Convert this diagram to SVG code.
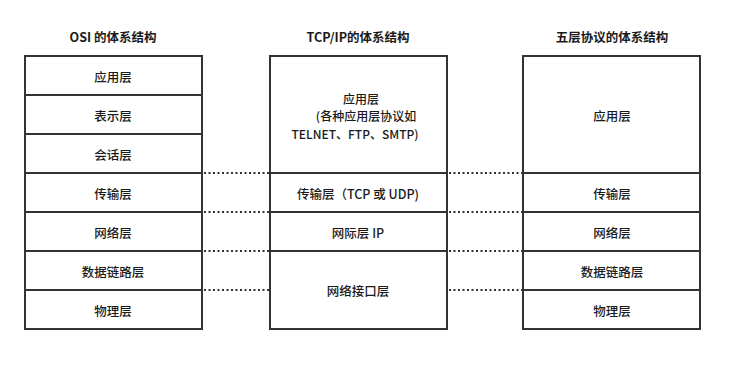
<svg xmlns="http://www.w3.org/2000/svg" width="736" height="374" viewBox="0 0 736 374">
<style>
.box{fill:#fff;stroke:#333;stroke-width:2}
.ln{stroke:#333;stroke-width:2;fill:none}
.dot{stroke:#333;stroke-width:2;stroke-dasharray:2 2.5;fill:none}
text{font-family:"Noto Sans CJK SC","Microsoft YaHei",sans-serif;font-size:12.5px;fill:#1a1a1a;text-anchor:middle;dominant-baseline:central}
.t{font-weight:bold}
.b{font-weight:500}
.s{font-size:12px}
</style>
<rect width="736" height="374" fill="#fff"/>
<g id="titles">
<text class="t" x="113" y="36">OSI 的体系结构</text>
<text class="t" x="358" y="36">TCP/IP的体系结构</text>
<text class="t" x="612" y="36">五层协议的体系结构</text>
</g>
<g id="connectors">
<line class="dot" x1="204" y1="173" x2="269" y2="173"/>
<line class="dot" x1="204" y1="212" x2="269" y2="212"/>
<line class="dot" x1="204" y1="251" x2="269" y2="251"/>
<line class="dot" x1="204" y1="290" x2="269" y2="290"/>
<line class="dot" x1="449" y1="173" x2="522" y2="173"/>
<line class="dot" x1="449" y1="212" x2="522" y2="212"/>
<line class="dot" x1="449" y1="251" x2="522" y2="251"/>
<line class="dot" x1="449" y1="290" x2="522" y2="290"/>
</g>
<g id="osi">
<rect class="box" x="25" y="56" width="177" height="273"/>
<line class="ln" x1="25" y1="95" x2="202" y2="95"/>
<line class="ln" x1="25" y1="134" x2="202" y2="134"/>
<line class="ln" x1="25" y1="173" x2="202" y2="173"/>
<line class="ln" x1="25" y1="212" x2="202" y2="212"/>
<line class="ln" x1="25" y1="251" x2="202" y2="251"/>
<line class="ln" x1="25" y1="290" x2="202" y2="290"/>
<g id="osi-app"><text class="b" x="113" y="76">应用层</text></g>
<g id="osi-pres"><text class="b" x="113" y="115">表示层</text></g>
<g id="osi-sess"><text class="b" x="113" y="154">会话层</text></g>
<g id="osi-trans"><text class="b" x="113" y="193">传输层</text></g>
<g id="osi-net"><text class="b" x="113" y="232">网络层</text></g>
<g id="osi-link"><text class="b" x="113" y="271">数据链路层</text></g>
<g id="osi-phy"><text class="b" x="113" y="310">物理层</text></g>
</g>
<g id="tcpip">
<rect class="box" x="270" y="56" width="177" height="273"/>
<line class="ln" x1="270" y1="173" x2="447" y2="173"/>
<line class="ln" x1="270" y1="212" x2="447" y2="212"/>
<line class="ln" x1="270" y1="251" x2="447" y2="251"/>
<g id="tcp-app">
<text class="b s" x="361" y="98">应用层</text>
<text class="b s" x="366" y="115.5">(各种应用层协议如</text>
<text class="b s" x="355" y="133">TELNET、FTP、SMTP)</text>
</g>
<g id="tcp-trans"><text class="b" x="358" y="193">传输层（TCP 或 UDP)</text></g>
<g id="tcp-ip"><text class="b" x="358" y="232">网际层 IP</text></g>
<g id="tcp-if"><text class="b" x="358" y="290">网络接口层</text></g>
</g>
<g id="five">
<rect class="box" x="523" y="56" width="177" height="273"/>
<line class="ln" x1="523" y1="173" x2="700" y2="173"/>
<line class="ln" x1="523" y1="212" x2="700" y2="212"/>
<line class="ln" x1="523" y1="251" x2="700" y2="251"/>
<line class="ln" x1="523" y1="290" x2="700" y2="290"/>
<g id="five-app"><text class="b" x="612" y="115">应用层</text></g>
<g id="five-trans"><text class="b" x="612" y="193">传输层</text></g>
<g id="five-net"><text class="b" x="612" y="232">网络层</text></g>
<g id="five-link"><text class="b" x="612" y="271">数据链路层</text></g>
<g id="five-phy"><text class="b" x="612" y="310">物理层</text></g>
</g>
</svg>
